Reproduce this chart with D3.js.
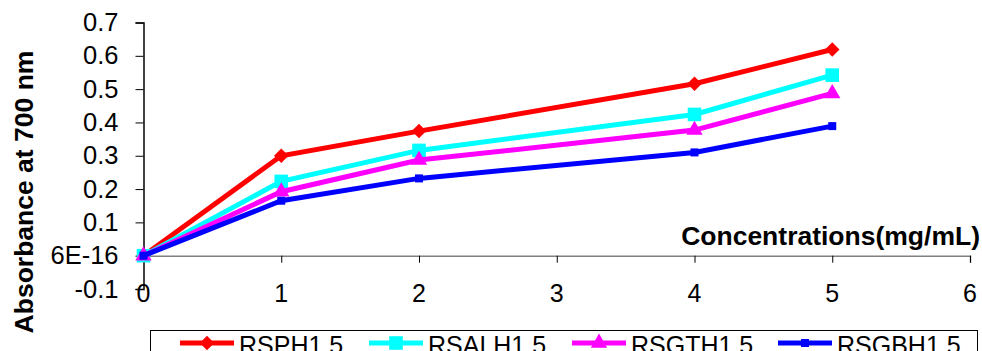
<!DOCTYPE html>
<html>
<head>
<meta charset="utf-8">
<script src="https://cdn.jsdelivr.net/npm/d3@7"></script>
<style>
  body { margin: 0; background: #fff; }
  svg { display: block; font-family: "Liberation Sans", Arial, sans-serif; }
</style>
</head>
<body>
<div id="chart"></div>
<script>
// concentrations (mg/mL)
const concentrations = [0, 1, 2, 4, 5];

// absorbance at 700 nm per sample
const rsph = [0, 0.300, 0.374, 0.516, 0.619];
const rsalh = [0, 0.223, 0.316, 0.424, 0.542];
const rsgth = [0, 0.192, 0.287, 0.377, 0.487];
const rsgbh = [0, 0.165, 0.232, 0.310, 0.389];

const seriesNames = ['RSPH1.5', 'RSALH1.5', 'RSGTH1.5', 'RSGBH1.5'];
const seriesColors = ['#ff0000', '#00ffff', '#ff00ff', '#0000ff'];
const seriesValues = [rsph, rsalh, rsgth, rsgbh];

const xTicks = [0, 1, 2, 3, 4, 5, 6];
const yTicks = [-0.1, 0, 0.1, 0.2, 0.3, 0.4, 0.5, 0.6, 0.7];
const yTickLabels = ['-0.1', '6E-16', '0.1', '0.2', '0.3', '0.4', '0.5', '0.6', '0.7'];

const width = 982;
const height = 351;

const svg = d3.select('#chart')
  .append('svg')
  .attr('width', width)
  .attr('height', height);

const xScale = d3.scaleLinear().domain([0, 6]).range([143.5, 970]);
const yScale = d3.scaleLinear().domain([-0.1, 0.7]).range([289, 22.5]);

// marker shapes, one per series
const markers = [
  { type: d3.symbolSquare, size: 105, rotate: 45 },  // diamond
  { type: d3.symbolSquare, size: 185, rotate: 0 },
  { type: d3.symbolTriangle, size: 115, rotate: 0 },
  { type: d3.symbolSquare, size: 64, rotate: 0 },
];

// X axis (sits on y = 0, grey line, ticks below, labels at the bottom)
svg.append('g')
  .attr('transform', `translate(0, ${yScale(0)})`)
  .call(d3.axisBottom(xScale).tickValues(xTicks.slice(1)).tickSize(7).tickFormat(''))
  .call(g => g.select('.domain').attr('stroke', '#808080').attr('stroke-width', 1.5))
  .call(g => g.selectAll('.tick line').attr('stroke', '#000'));

svg.append('g')
  .selectAll('text')
  .data(xTicks)
  .join('text')
  .attr('x', d => xScale(d))
  .attr('y', 302)
  .attr('text-anchor', 'middle')
  .attr('font-size', 25)
  .attr('fill', '#000')
  .text(d => d);

// Y axis
const yAxis = d3.axisLeft(yScale)
  .tickValues(yTicks)
  .tickSize(8)
  .tickPadding(17)
  .tickFormat((d, i) => yTickLabels[i]);

svg.append('g')
  .attr('transform', `translate(${xScale(0)}, 0)`)
  .call(yAxis)
  .call(g => g.select('.domain').attr('stroke', '#000').attr('stroke-width', 1.5))
  .call(g => g.selectAll('.tick text')
    .attr('font-size', 25.5)
    .attr('font-family', '"Liberation Sans", Arial, sans-serif')
    .attr('fill', '#000'));

// axis titles
svg.append('text')
  .attr('transform', 'translate(33, 192) rotate(-90)')
  .attr('text-anchor', 'middle')
  .attr('font-size', 26.5)
  .attr('font-weight', 'bold')
  .text('Absorbance at 700 nm');

svg.append('text')
  .attr('x', 980)
  .attr('y', 245)
  .attr('text-anchor', 'end')
  .attr('font-size', 26.5)
  .attr('font-weight', 'bold')
  .text('Concentrations(mg/mL)');

// series lines + markers
const line = d3.line()
  .x((d, i) => xScale(concentrations[i]))
  .y(d => yScale(d));

seriesValues.forEach((vals, s) => {
  const g = svg.append('g');
  g.append('path')
    .datum(vals)
    .attr('fill', 'none')
    .attr('stroke', seriesColors[s])
    .attr('stroke-width', 5)
    .attr('d', line);
  g.selectAll('path.marker')
    .data(vals)
    .join('path')
    .attr('class', 'marker')
    .attr('transform', (d, i) =>
      `translate(${xScale(concentrations[i])}, ${yScale(d)}) rotate(${markers[s].rotate})`)
    .attr('d', d3.symbol().type(markers[s].type).size(markers[s].size))
    .attr('fill', seriesColors[s]);
});

// legend
svg.append('rect')
  .attr('x', 150.5)
  .attr('y', 330.5)
  .attr('width', 827)
  .attr('height', 40)
  .attr('fill', 'none')
  .attr('stroke', '#000')
  .attr('stroke-width', 1);

const legendX = [180, 369, 572, 778];
const legend = svg.append('g')
  .selectAll('g')
  .data(seriesNames)
  .join('g')
  .attr('transform', (d, i) => `translate(${legendX[i]}, 343)`);

legend.append('line')
  .attr('x1', 0)
  .attr('x2', 54)
  .attr('stroke', (d, i) => seriesColors[i])
  .attr('stroke-width', 5);

legend.append('path')
  .attr('transform', (d, i) => `translate(27, 0) rotate(${markers[i].rotate})`)
  .attr('d', (d, i) => d3.symbol().type(markers[i].type).size(markers[i].size)())
  .attr('fill', (d, i) => seriesColors[i]);

legend.append('text')
  .attr('x', 59)
  .attr('y', 11)
  .attr('font-size', 25)
  .attr('fill', '#000')
  .text(d => d);
</script>
</body>
</html>
